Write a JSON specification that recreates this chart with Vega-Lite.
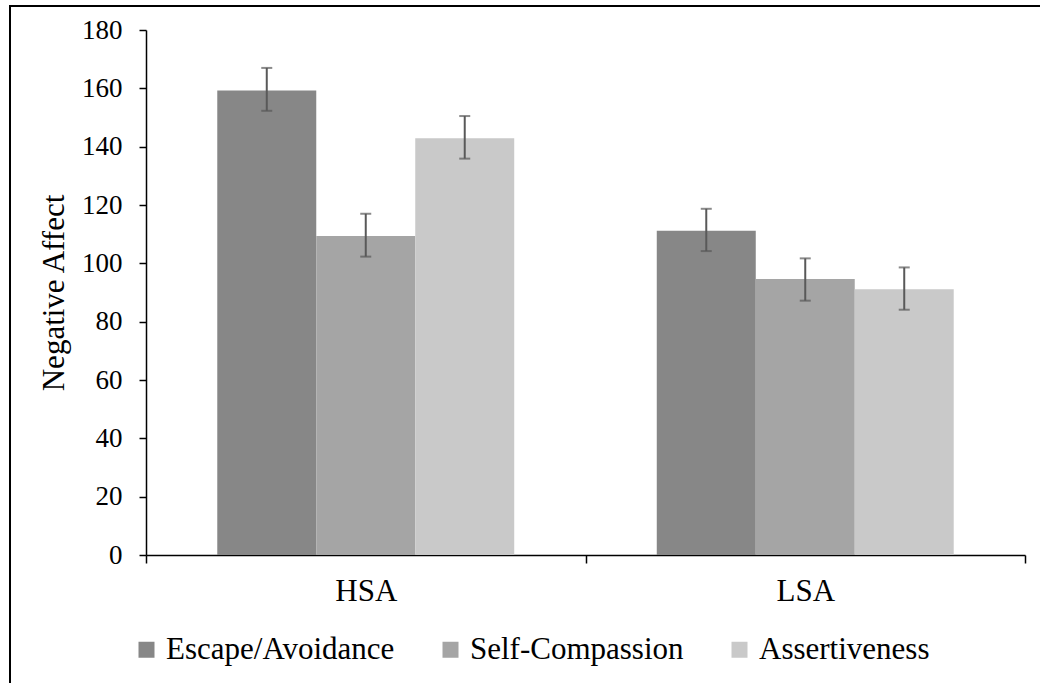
{
  "$schema": "https://vega.github.io/schema/vega-lite/v6.json",
  "autosize": "none",
  "padding": {"left": 10, "top": 6, "right": 0, "bottom": 0},
  "width": 1040,
  "height": 683,
  "background": "white",
  "config": {
    "view": {"stroke": "black", "strokeWidth": 2},
    "font": "Liberation Serif, DejaVu Serif, serif",
    "axis": {"labelFont": "Liberation Serif, DejaVu Serif, serif", "titleFont": "Liberation Serif, DejaVu Serif, serif"},
    "legend": {"labelFont": "Liberation Serif, DejaVu Serif, serif"}
  },
  "data": {
    "values": [
      {"group": "HSA", "cond": "Escape/Avoidance", "mean": 159.3, "lo": 152.3, "hi": 167.0},
      {"group": "HSA", "cond": "Self-Compassion", "mean": 109.4, "lo": 102.3, "hi": 117.0},
      {"group": "HSA", "cond": "Assertiveness", "mean": 142.9, "lo": 135.9, "hi": 150.5},
      {"group": "LSA", "cond": "Escape/Avoidance", "mean": 111.2, "lo": 104.2, "hi": 118.7},
      {"group": "LSA", "cond": "Self-Compassion", "mean": 94.6, "lo": 87.2, "hi": 101.7},
      {"group": "LSA", "cond": "Assertiveness", "mean": 91.1, "lo": 84.1, "hi": 98.6}
    ]
  },
  "encoding": {
    "x": {
      "field": "group",
      "type": "nominal",
      "scale": {"range": [136, 1015], "paddingInner": 0, "paddingOuter": 0},
      "axis": {
        "title": null,
        "labelAngle": 0,
        "labelFontSize": 31,
        "labelColor": "black",
        "labelPadding": 13,
        "domainColor": "black",
        "domainWidth": 1.5,
        "tickColor": "black",
        "tickWidth": 1.5,
        "tickSize": 8,
        "tickBand": "extent",
        "offset": -134
      }
    },
    "xOffset": {
      "field": "cond",
      "type": "nominal",
      "sort": ["Escape/Avoidance", "Self-Compassion", "Assertiveness"],
      "scale": {"paddingOuter": 0.72, "paddingInner": 0}
    }
  },
  "layer": [
    {
      "mark": {"type": "bar"},
      "encoding": {
        "y": {
          "field": "mean",
          "type": "quantitative",
          "scale": {"domain": [0, 180], "range": [549, 24], "nice": false},
          "axis": {
            "title": "Negative Affect",
            "titleFontSize": 31,
            "titleFontWeight": "normal",
            "titleColor": "black",
            "titlePadding": 11,
            "values": [0, 20, 40, 60, 80, 100, 120, 140, 160, 180],
            "grid": false,
            "labelFontSize": 27,
            "labelColor": "black",
            "labelPadding": 17,
            "domainColor": "black",
            "domainWidth": 1.5,
            "tickColor": "black",
            "tickWidth": 1.5,
            "tickSize": 7,
            "offset": -136
          }
        },
        "color": {
          "field": "cond",
          "type": "nominal",
          "sort": ["Escape/Avoidance", "Self-Compassion", "Assertiveness"],
          "scale": {"range": ["#878787", "#a5a5a5", "#c9c9c9"]},
          "legend": {
            "title": null,
            "orient": "none",
            "legendX": 121,
            "legendY": 628,
            "direction": "horizontal",
            "symbolType": "square",
            "symbolSize": 256,
            "symbolStrokeWidth": 0,
            "labelFontSize": 31,
            "labelColor": "black",
            "labelLimit": 0,
            "labelOffset": 4,
            "columnPadding": 40,
            "padding": 0
          }
        }
      }
    },
    {
      "mark": {"type": "rule", "color": "#595959", "strokeWidth": 2},
      "encoding": {
        "y": {"field": "lo", "type": "quantitative"},
        "y2": {"field": "hi"}
      }
    },
    {
      "mark": {"type": "tick", "color": "#595959", "thickness": 2, "size": 11},
      "encoding": {"y": {"field": "lo", "type": "quantitative"}}
    },
    {
      "mark": {"type": "tick", "color": "#595959", "thickness": 2, "size": 11},
      "encoding": {"y": {"field": "hi", "type": "quantitative"}}
    }
  ]
}
